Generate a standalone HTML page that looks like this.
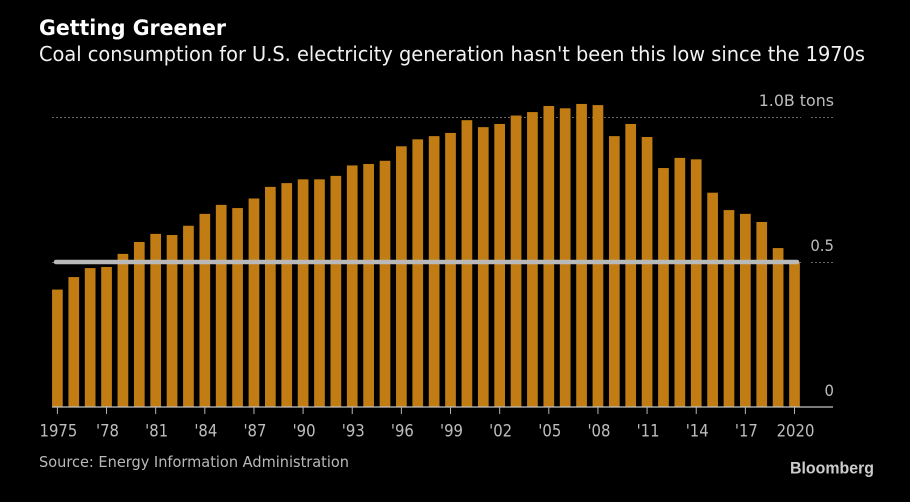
<!DOCTYPE html>
<html lang="en">
<head>
<meta charset="utf-8">
<title>Getting Greener</title>
<style>
html,body{margin:0;padding:0;background:#000;width:910px;height:502px;overflow:hidden}
svg{display:block}
text{font-family:"DejaVu Sans","Liberation Sans",sans-serif}
</style>
</head>
<body>
<svg id="chart" width="910" height="502" viewBox="0 0 910 502" xmlns="http://www.w3.org/2000/svg">
<rect x="0" y="0" width="910" height="502" fill="#000"/>
<text x="39" y="35" font-size="21.5" font-weight="700" fill="#fff" textLength="187" lengthAdjust="spacingAndGlyphs">Getting Greener</text>
<text x="39" y="61" font-size="20.5" fill="#f2f2f2" textLength="826" lengthAdjust="spacingAndGlyphs">Coal consumption for U.S. electricity generation hasn't been this low since the 1970s</text>
<g id="gridlines"></g>
<g id="bars"></g>
<g id="reference"></g>
<g id="axes"></g>
<text x="39" y="467" font-size="15.5" fill="#b9b9b9" textLength="310" lengthAdjust="spacingAndGlyphs">Source: Energy Information Administration</text>
<text x="790" y="473.5" font-size="17" font-weight="700" fill="#cccccc" textLength="84" lengthAdjust="spacingAndGlyphs" style="font-family:'Liberation Sans',sans-serif">Bloomberg</text>
</svg>
<script>
const years = [1975,1976,1977,1978,1979,1980,1981,1982,1983,1984,1985,1986,1987,1988,1989,1990,1991,1992,1993,1994,1995,1996,1997,1998,1999,2000,2001,2002,2003,2004,2005,2006,2007,2008,2009,2010,2011,2012,2013,2014,2015,2016,2017,2018,2019,2020];
const coalTons = [0.405,0.448,0.479,0.483,0.528,0.569,0.597,0.593,0.625,0.666,0.697,0.686,0.719,0.759,0.772,0.785,0.785,0.797,0.833,0.838,0.849,0.899,0.923,0.934,0.945,0.989,0.965,0.976,1.005,1.017,1.038,1.030,1.045,1.041,0.934,0.976,0.931,0.824,0.859,0.854,0.739,0.679,0.666,0.638,0.548,0.500];
const referenceValue = 0.5;
const yTickValues = [0,0.5,1];
const yTickLabels = ['0','0.5','1.0B tons'];
const xTickYears = [1975,1978,1981,1984,1987,1990,1993,1996,1999,2002,2005,2008,2011,2014,2017,2020];
const xTickLabels = ['1975',"'78","'81","'84","'87","'90","'93","'96","'99","'02","'05","'08","'11","'14","'17",'2020'];

const NS = 'http://www.w3.org/2000/svg';
const xScale = function (year) { return 57.4 + (year - 1975) * 16.38; };
const yScale = function (value) { return 407 - value * 290; };

function make(tag, parentId, attrs, content) {
  const el = document.createElementNS(NS, tag);
  Object.keys(attrs).forEach(function (k) { el.setAttribute(k, attrs[k]); });
  if (content !== undefined) { el.textContent = content; }
  document.getElementById(parentId).appendChild(el);
  return el;
}

function squeeze(el, factor) {
  const natural = el.getComputedTextLength();
  el.setAttribute('textLength', (natural * factor).toFixed(2));
  el.setAttribute('lengthAdjust', 'spacingAndGlyphs');
}

yTickValues.forEach(function (v, i) {
  const y = yScale(v) + 0.5;
  if (v > 0) {
    const main = make('line', 'gridlines', {x1: 52, x2: 801, y1: y, y2: y, stroke: '#666', 'stroke-width': 1, 'stroke-dasharray': '2 2'});
    
    
    const stub = make('line', 'gridlines', {x1: 811, x2: 833, y1: y, y2: y, stroke: '#666', 'stroke-width': 1, 'stroke-dasharray': '2 2'});
    
    
  }
  const label = make('text', 'axes', {x: 834, y: yScale(v) - 11, 'font-size': 16, fill: '#bdbdbd', 'text-anchor': 'end'}, yTickLabels[i]);
  
  
  squeeze(label, v === 1 ? 0.99 : 0.93);
});

years.forEach(function (year, i) {
  const top = yScale(coalTons[i]);
  const bar = make('rect', 'bars', {x: xScale(year) - 5.35, y: top, width: 10.7, height: yScale(0) - top, fill: '#c17d14'});
  
  
});

const refLine = make('line', 'reference', {x1: 56, x2: 797, y1: yScale(referenceValue), y2: yScale(referenceValue), stroke: '#b9b9b9', 'stroke-width': 4.5, 'stroke-linecap': 'round'});



const axisLine = make('line', 'axes', {x1: 52, x2: 833, y1: 407, y2: 407, stroke: '#c4c4c4', 'stroke-width': 1.2});



xTickYears.forEach(function (year, i) {
  const x = xScale(year);
  const tick = make('line', 'axes', {x1: x, x2: x, y1: 407, y2: 414, stroke: '#b5b5b5', 'stroke-width': 1});
  
  
  const label = make('text', 'axes', {x: x + 1, y: 436.5, 'font-size': 16.5, fill: '#bdbdbd', 'text-anchor': 'middle'}, xTickLabels[i]);
  
  
  squeeze(label, 0.9);
});
</script>
</body>
</html>
